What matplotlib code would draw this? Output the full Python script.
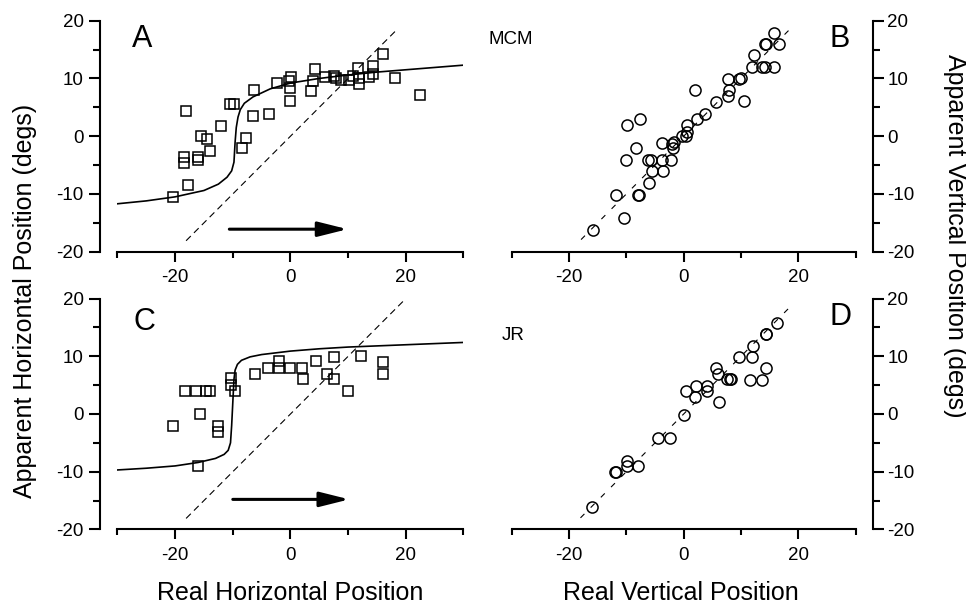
"""
Apparent vs real target position, four panels (MCM top, JR bottom)
"""

import matplotlib
matplotlib.use('Agg')
import matplotlib.pyplot as plt
from matplotlib.ticker import FixedLocator

plt.rcParams['font.family'] = ['Liberation Sans', 'DejaVu Sans']
plt.rcParams['axes.unicode_minus'] = False

# Panel A: MCM, horizontal
a_x = [-18.2, -10.4, -9.8, -12.0, -15.6, -14.5, -13.9, -18.4, -18.4, -16.0,
       -16.0, -17.8, -20.4, -7.7, -8.4, -6.5, -3.8, -6.4, -2.4, -0.2, 0.1,
       0.0, 0.0, 4.2, 3.9, 3.6, 5.9, 7.6, 7.9, 8.8, 10.2, 10.8, 11.7, 11.8,
       11.8, 14.3, 14.3, 13.7, 16.0, 18.2, 22.4]
a_y = [4.3, 5.6, 5.6, 1.8, 0.1, -0.4, -2.5, -3.6, -4.6, -3.6, -4.1, -8.4,
       -10.6, -0.3, -2.1, 3.5, 3.9, 8.0, 9.2, 9.5, 10.2, 8.4, 6.1, 11.7, 9.5,
       7.8, 10.3, 10.4, 10.1, 9.7, 9.8, 10.5, 11.8, 10.1, 9.1, 12.2, 10.7,
       10.2, 14.3, 10.0, 7.2]
a_fit_x = [-30, -25, -20, -15, -12.5, -11, -10.2, -9.8, -9.6, -9.4, -9.1,
           -8.7, -8.0, -6.5, -3.5, 0, 5, 10, 15, 20, 25, 30]
a_fit_y = [-11.7, -11.2, -10.5, -9.4, -8.3, -7.1, -6.0, -4.5, -1.0, 1.5, 3.3,
           4.6, 5.7, 6.8, 8.2, 9.2, 10.0, 10.6, 11.1, 11.5, 11.9, 12.3]

# Panel B: MCM, vertical
b_x = [-15.8, -10.4, -11.8, -8.0, -7.8, -6.1, -5.5, -3.6, -10.1, -6.3, -5.7,
       -3.8, -2.3, -8.4, -9.9, -7.6, -3.8, -2.0, -1.7, -1.9, -0.3, 0.4, 0.6,
       0.6, 2.4, 3.8, 2.0, 5.7, 7.7, 7.9, 7.7, 9.6, 10.0, 10.5, 11.9, 12.3,
       13.7, 14.1, 15.7, 14.1, 14.4, 15.7, 16.6]
b_y = [-16.2, -14.2, -10.1, -10.1, -10.1, -8.1, -6.1, -6.1, -4.1, -4.1, -4.1,
       -4.1, -4.1, -2.0, 1.9, 3.0, -1.1, -1.3, -1.0, -2.0, 0.0, 0.0, 0.7, 2.0,
       3.0, 3.9, 8.0, 6.0, 6.9, 8.0, 9.9, 9.9, 10.1, 6.1, 12.0, 14.0, 12.0,
       12.0, 12.0, 16.0, 16.0, 17.9, 16.0]

# Panel C: JR, horizontal
c_x = [-18.3, -16.4, -14.7, -14.0, -20.3, -15.7, -12.5, -12.5, -16.0, -10.3,
       -10.3, -9.6, -6.1, -3.9, -2.0, -2.0, 0.0, 2.0, 2.2, 4.4, 6.3, 7.6, 7.6,
       10.0, 12.2, 16.0, 16.0]
c_y = [4.0, 4.0, 4.0, 4.0, -2.0, 0.0, -2.0, -3.1, -9.1, 6.2, 5.0, 4.0, 6.9,
       8.0, 9.1, 8.0, 8.0, 8.0, 6.1, 9.1, 7.0, 9.9, 6.1, 4.0, 10.0, 9.0, 7.0]
c_fit_x = [-30, -25, -20, -16, -13, -11.5, -10.8, -10.4, -10.2, -10.0, -9.8,
           -9.6, -9.2, -8.5, -7, -5, 0, 5, 10, 15, 20, 25, 30]
c_fit_y = [-9.7, -9.4, -9.0, -8.4, -7.7, -7.0, -6.3, -5.0, -2.0, 2.0, 6.0,
           7.6, 8.6, 9.3, 9.9, 10.3, 10.9, 11.3, 11.6, 11.8, 12.0, 12.2, 12.4]

# Panel D: JR, vertical
d_x = [-16.0, -11.9, -11.8, -9.9, -9.9, -7.9, -4.4, -2.4, 0.0, 0.4, 2.2, 2.0,
       4.0, 4.1, 6.1, 5.7, 5.9, 7.6, 8.0, 8.3, 9.6, 11.6, 11.9, 12.1, 13.7,
       14.4, 14.3, 14.4, 16.3]
d_y = [-16.1, -10.0, -10.0, -8.1, -9.1, -9.1, -4.1, -4.1, -0.1, 3.9, 4.9, 3.0,
       4.9, 3.9, 2.0, 7.9, 7.0, 6.0, 6.0, 6.0, 9.8, 5.9, 9.9, 11.8, 5.9, 7.9,
       13.9, 13.9, 15.8]

# Identity (dashed) line ends for each panel
a_diag = [-18.1, 18.2]
b_diag = [-17.9, 18.3]
c_diag = [-18.1, 19.5]
d_diag = [-18.0, 18.4]

# Motion direction arrows: start x, end x, height
a_arrow = [-10.6, 9.9, -16.1]
c_arrow = [-10.0, 10.2, -14.8]

fig = plt.figure(figsize=(9.66, 6.08), dpi=100)

ax_a = fig.add_axes([0.1216, 0.586, 0.3582, 0.380])
ax_b = fig.add_axes([0.5297, 0.586, 0.3561, 0.380])
ax_c = fig.add_axes([0.1216, 0.1293, 0.3582, 0.3796])
ax_d = fig.add_axes([0.5297, 0.1293, 0.3561, 0.3796])


def style_axes(ax, side):
    ax.set_xlim(-30, 30)
    ax.set_ylim(-20, 20)
    ax.patch.set_visible(False)
    ax.spines['top'].set_visible(False)
    other = 'right' if side == 'left' else 'left'
    ax.spines[other].set_visible(False)
    ax.spines[side].set_position(('outward', 12.6))
    ax.spines[side].set_linewidth(1.5)
    ax.spines['bottom'].set_linewidth(1.5)

    ax.xaxis.set_major_locator(FixedLocator([-20, 0, 20]))
    ax.xaxis.set_minor_locator(FixedLocator([-30, -10, 10, 30]))
    ax.yaxis.set_major_locator(FixedLocator([-20, -10, 0, 10, 20]))
    ax.yaxis.set_minor_locator(FixedLocator([-15, -5, 5, 15]))

    ax.tick_params(axis='x', which='major', length=7.5, width=1.5,
                   labelsize=13.5, pad=5, direction='out')
    ax.tick_params(axis='x', which='minor', length=4, width=1.5,
                   direction='out')
    if side == 'left':
        ax.tick_params(axis='y', which='both', left=True, right=False,
                       labelleft=True, labelright=False)
        ax.tick_params(axis='y', which='major', pad=4)
    else:
        ax.yaxis.tick_right()
        ax.tick_params(axis='y', which='major', pad=2.5)
    ax.tick_params(axis='y', which='major', length=7.7, width=1.5,
                   labelsize=13.5, direction='out')
    ax.tick_params(axis='y', which='minor', length=4.8, width=1.5,
                   direction='out')


style_axes(ax_a, 'left')
style_axes(ax_b, 'right')
style_axes(ax_c, 'left')
style_axes(ax_d, 'right')

sq = dict(linestyle='none', marker='s', markersize=7.2, mfc='none',
          mec='black', mew=1.1, clip_on=False)
circ = dict(linestyle='none', marker='o', markersize=8, mfc='none',
            mec='black', mew=1.1, clip_on=False)

# Horizontal panels: squares, fitted curve, identity line, arrow
for ax, xs, ys, fx, fy, diag, arr in [
        (ax_a, a_x, a_y, a_fit_x, a_fit_y, a_diag, a_arrow),
        (ax_c, c_x, c_y, c_fit_x, c_fit_y, c_diag, c_arrow)]:
    ax.plot(diag, diag, color='black', lw=0.8, dashes=(6, 4))
    ax.plot(fx, fy, color='black', lw=1.2)
    ax.plot(xs, ys, **sq)
    ax.annotate('', xy=(arr[1], arr[2]), xytext=(arr[0], arr[2]),
                arrowprops=dict(arrowstyle='-|>,head_length=18,head_width=4.5',
                                mutation_scale=1, lw=2.2, color='black',
                                shrinkA=0, shrinkB=0))

# Vertical panels: circles and identity line
for ax, xs, ys, diag in [(ax_b, b_x, b_y, b_diag), (ax_d, d_x, d_y, d_diag)]:
    ax.plot(diag, diag, color='black', lw=0.8, dashes=(5, 8))
    ax.plot(xs, ys, **circ)

# Panel letters and subject names
fig.text(0.1366, 0.9227, 'A', fontsize=22, va='baseline')
fig.text(0.8592, 0.9227, 'B', fontsize=22, va='baseline')
fig.text(0.1377, 0.4572, 'C', fontsize=22, va='baseline')
fig.text(0.8592, 0.4655, 'D', fontsize=22, va='baseline')
fig.text(0.5052, 0.9276, 'MCM', fontsize=13.5, va='baseline')
fig.text(0.5197, 0.4408, 'JR', fontsize=13.5, va='baseline')

# Axis titles
fig.text(0.0259, 0.505, 'Apparent Horizontal Position (degs)', fontsize=18,
         rotation=90, ha='center', va='center')
fig.text(0.9886, 0.612, 'Apparent Vertical Position (degs)', fontsize=18,
         rotation=270, ha='center', va='center')
fig.text(0.300, 0.013, 'Real Horizontal Position', fontsize=18,
         ha='center', va='baseline')
fig.text(0.705, 0.013, 'Real Vertical Position', fontsize=18,
         ha='center', va='baseline')

fig.savefig('out.png', dpi=100)
